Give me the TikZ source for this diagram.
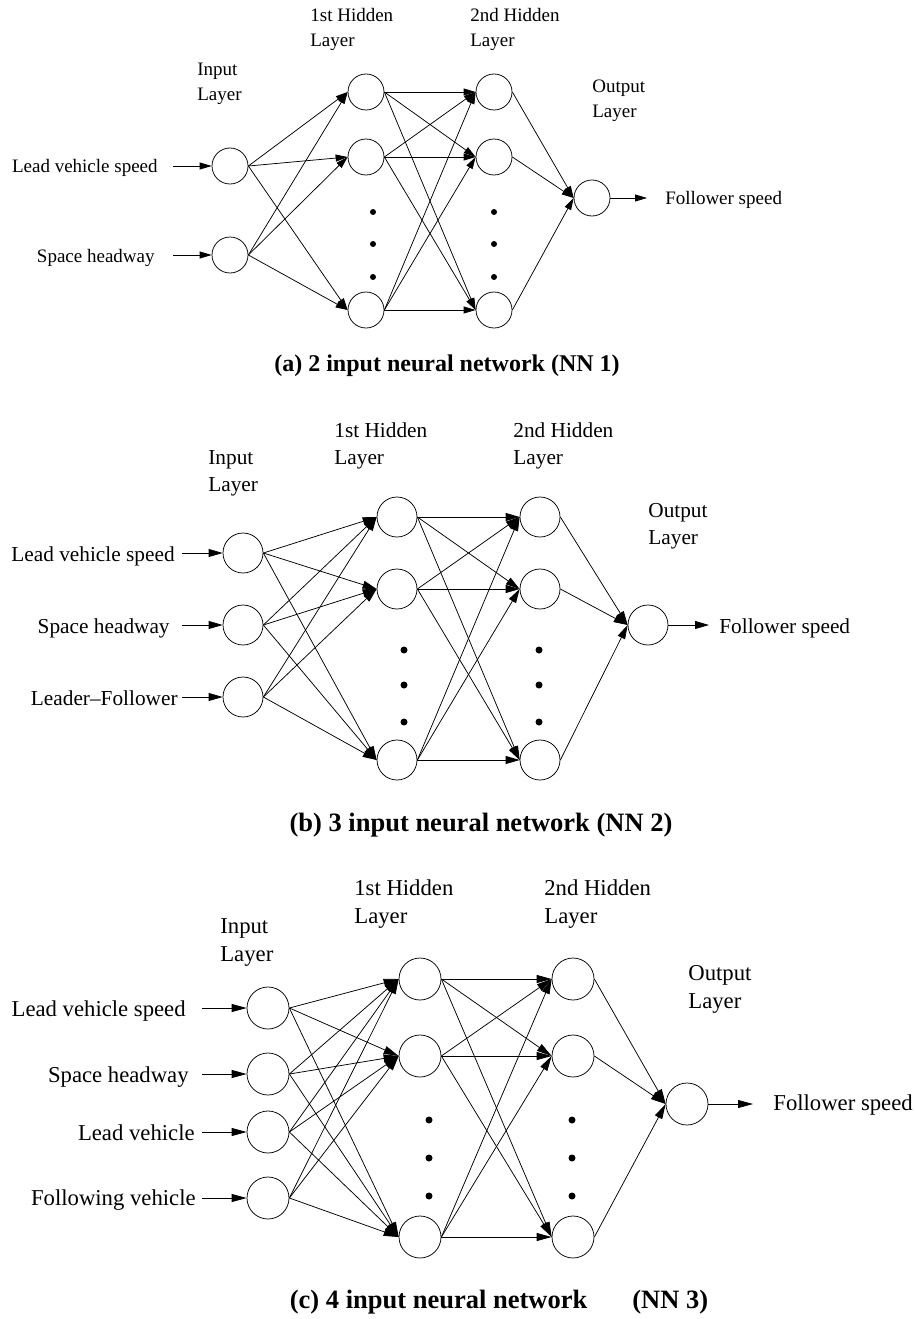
\documentclass[tikz,border=0pt]{standalone}
\usepackage{fontspec}
\setmainfont{Liberation Serif}
\usetikzlibrary{arrows.meta}
\tikzset{
  nnfig/.style={x=1pt,y=-1pt,line width=0.75pt},
  neuron/.style={circle,draw,inner sep=0pt,minimum size=\nd},
  wire/.style={-{Triangle[length=\tl,width=\tw]}},
  lbl/.style={inner sep=0pt,font=\fs},
  layer/.style={inner sep=0pt,font=\fs,align=left,anchor=north west},
  caption/.style={inner sep=0pt,font=\fc\bfseries}
}

\begin{document}
\begin{tikzpicture}[nnfig]
  \useasboundingbox (0,0) rectangle (914,1319);
  % (a) two inputs
  \def\nd{36pt}\def\tl{12pt}\def\tw{7pt}\def\dr{3pt}
  \def\fs{\fontsize{19}{24.5}\selectfont}\def\fc{\fontsize{24}{28}\selectfont}
  \node[neuron] (a-i1) at (230,166) {};
  \node[neuron] (a-i2) at (230,255) {};
  \foreach \k/\y in {1/92,2/157,3/310} {
    \node[neuron] (a-h\k) at (366,\y) {};
    \node[neuron] (a-g\k) at (494,\y) {};
  }
  \node[neuron] (a-o) at (592,198) {};
  \foreach \y in {212,244,277} \fill (373,\y) circle[radius=\dr] (494,\y) circle[radius=\dr];
  \foreach \i in {1,2} \foreach \k in {1,2,3} \draw[wire] (a-i\i.east) -- (a-h\k.west);
  \foreach \i in {1,2,3} {
    \foreach \k in {1,2,3} \draw[wire] (a-h\i.east) -- (a-g\k.west);
    \draw[wire] (a-g\i.east) -- (a-o.west);
  }
  \coordinate (a-s1) at (173,166);
  \coordinate (a-s2) at (173,255);
  \coordinate (a-t) at (647,198);
  \draw[wire] (a-s1) -- (a-i1.west);
  \draw[wire] (a-s2) -- (a-i2.west);
  \draw[wire] (a-o.east) -- (a-t);
  \node[lbl,anchor=base east] (a-l1) at (158,172) {Lead vehicle speed};
  \node[lbl,anchor=base east] (a-l2) at (155,262) {Space headway};
  \node[lbl,anchor=base west] (a-out) at (665,204) {Follower speed};
  \node[layer] (a-lin) at (197,63) {Input\\Layer};
  \node[layer] (a-lh1) at (310,8) {1st Hidden\\Layer};
  \node[layer] (a-lh2) at (470,8) {2nd Hidden\\Layer};
  \node[layer] (a-lout) at (592,80) {Output\\Layer};
  \node[caption] (a-cap) at (447,366) {(a) 2 input neural network (NN 1)};

  % (b) three inputs
  \def\nd{40pt}\def\tl{14pt}\def\tw{8pt}\def\dr{3.5pt}
  \def\fs{\fontsize{21.3}{27}\selectfont}\def\fc{\fontsize{26.5}{30}\selectfont}
  \foreach \k/\y in {1/553,2/625,3/697} \node[neuron] (b-i\k) at (243,\y) {};
  \foreach \k/\y in {1/517,2/589,3/760} {
    \node[neuron] (b-h\k) at (397,\y) {};
    \node[neuron] (b-g\k) at (540,\y) {};
  }
  \node[neuron] (b-o) at (648,625) {};
  \foreach \y in {650,685,722} \fill (404,\y) circle[radius=\dr] (539,\y) circle[radius=\dr];
  \foreach \i in {1,2,3} {
    \foreach \k in {1,2,3} \draw[wire] (b-i\i.east) -- (b-h\k.west);
    \foreach \k in {1,2,3} \draw[wire] (b-h\i.east) -- (b-g\k.west);
    \draw[wire] (b-g\i.east) -- (b-o.west);
  }
  \foreach \k/\y in {1/553,2/625,3/697} {
    \coordinate (b-s\k) at (182,\y);
    \draw[wire] (b-s\k) -- (b-i\k.west);
  }
  \coordinate (b-t) at (709,625);
  \draw[wire] (b-o.east) -- (b-t);
  \node[lbl,anchor=base east] (b-l1) at (175,561) {Lead vehicle speed};
  \node[lbl,anchor=base east] (b-l2) at (170,633) {Space headway};
  \node[lbl,anchor=base east] (b-l3) at (178,705) {Leader\textendash Follower};
  \node[lbl,anchor=base west] (b-out) at (719,633) {Follower speed};
  \node[layer] (b-lin) at (208,450) {Input\\Layer};
  \node[layer] (b-lh1) at (334,422) {1st Hidden\\Layer};
  \node[layer] (b-lh2) at (513,422) {2nd Hidden\\Layer};
  \node[layer] (b-lout) at (648,503) {Output\\Layer};
  \node[caption] (b-cap) at (481,825) {(b) 3 input neural network (NN 2)};

  % (c) four inputs
  \def\nd{42pt}\def\tl{15pt}\def\tw{8pt}\def\dr{3.5pt}
  \def\fs{\fontsize{22.7}{28.5}\selectfont}\def\fc{\fontsize{26.5}{30}\selectfont}
  \foreach \k/\y in {1/1008,2/1074,3/1132,4/1198} \node[neuron] (c-i\k) at (268,\y) {};
  \foreach \k/\y in {1/979,2/1056,3/1237} {
    \node[neuron] (c-h\k) at (420,\y) {};
    \node[neuron] (c-g\k) at (573,\y) {};
  }
  \node[neuron] (c-o) at (687,1104) {};
  \foreach \y in {1120,1158,1196} \fill (429,\y) circle[radius=\dr] (572,\y) circle[radius=\dr];
  \foreach \i in {1,2,3,4} \foreach \k in {1,2,3} \draw[wire] (c-i\i.east) -- (c-h\k.west);
  \foreach \i in {1,2,3} {
    \foreach \k in {1,2,3} \draw[wire] (c-h\i.east) -- (c-g\k.west);
    \draw[wire] (c-g\i.east) -- (c-o.west);
  }
  \foreach \k/\y in {1/1008,2/1074,3/1132,4/1198} {
    \coordinate (c-s\k) at (202,\y);
    \draw[wire] (c-s\k) -- (c-i\k.west);
  }
  \coordinate (c-t) at (753,1104);
  \draw[wire] (c-o.east) -- (c-t);
  \node[lbl,anchor=base east] (c-l1) at (186,1016) {Lead vehicle speed};
  \node[lbl,anchor=base east] (c-l2) at (189,1082) {Space headway};
  \node[lbl,anchor=base east] (c-l3) at (195,1140) {Lead vehicle};
  \node[lbl,anchor=base east] (c-l4) at (196,1205) {Following vehicle};
  \node[lbl,anchor=base west] (c-out) at (773,1110) {Follower speed};
  \node[layer] (c-lin) at (220,918) {Input\\Layer};
  \node[layer] (c-lh1) at (354,879) {1st Hidden\\Layer};
  \node[layer] (c-lh2) at (544,879) {2nd Hidden\\Layer};
  \node[layer] (c-lout) at (688,965) {Output\\Layer};
  \node[caption] (c-cap) at (499,1302) {(c) 4 input neural network\hspace{1.7em}(NN 3)};
\end{tikzpicture}
\end{document}
